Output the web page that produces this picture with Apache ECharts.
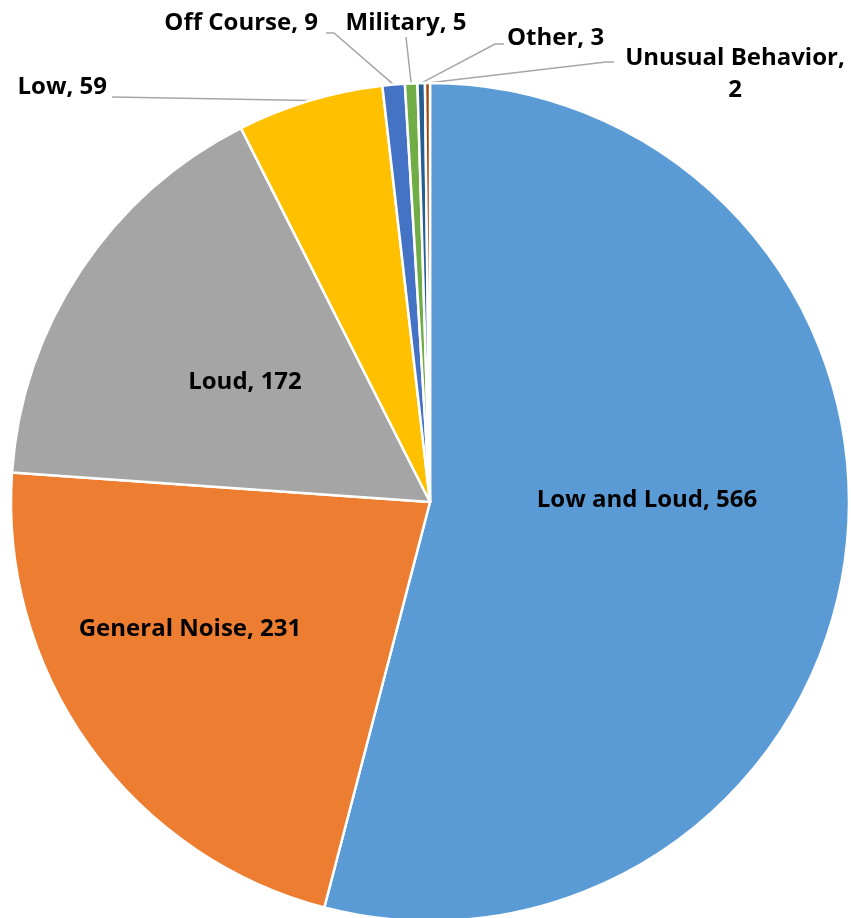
<!DOCTYPE html>
<html>
<head>
<meta charset="utf-8">
<script src="https://cdn.jsdelivr.net/npm/echarts@6/dist/echarts.min.js"></script>
<style>html,body{margin:0;padding:0;background:#fff}#c{width:851px;height:918px}</style>
</head>
<body>
<div id="c"></div>
<script>
const categories = ['Low and Loud', 'General Noise', 'Loud', 'Low', 'Off Course', 'Military', 'Other', 'Unusual Behavior'];
const values = [566, 231, 172, 59, 9, 5, 3, 2];
const colors = ['#5B9BD5', '#ED7D31', '#A5A5A5', '#FFC000', '#4472C4', '#70AD47', '#255E91', '#9E480E'];

// label placement (style only)
const labelPos = [
  {x: 647, y: 500, align: 'center'},
  {x: 190, y: 629, align: 'center'},
  {x: 245, y: 382, align: 'center'},
  {x: 107, y: 87, align: 'right', line: [[112, 97]]},
  {x: 318, y: 23, align: 'right', line: [[334, 33], [326, 33]]},
  {x: 406, y: 23, align: 'center', line: [[406, 37]]},
  {x: 507, y: 38, align: 'left', line: [[495, 44], [504, 44]]},
  {x: 735, y: 74, align: 'center', line: [[606, 62], [614, 62]]}
];

const data = categories.map((n, i) => ({
  name: n,
  value: values[i],
  itemStyle: {color: colors[i]},
  label: i < 3 ? {position: 'inside'} : {position: 'outside'},
  labelLine: {show: i >= 3}
}));

const chart = echarts.init(document.getElementById('c'));
chart.setOption({
  animation: false,
  series: [{
    type: 'pie',
    center: [430, 502],
    radius: 419,
    startAngle: 90,
    clockwise: true,
    avoidLabelOverlap: false,
    data: data,
    itemStyle: {borderColor: '#fff', borderWidth: 2.5},
    label: {
      formatter: p => p.dataIndex === 7 ? 'Unusual Behavior,\n2' : p.name + ', ' + p.value,
      fontFamily: 'Open Sans',
      fontWeight: 'bold',
      fontSize: 24,
      color: '#000',
      lineHeight: 32
    },
    labelLine: {lineStyle: {color: '#A6A6A6', width: 1.5}, length: 10, length2: 10},
    labelLayout: function (params) {
      const p = labelPos[params.dataIndex];
      const res = {x: p.x, y: p.y, align: p.align, verticalAlign: 'middle'};
      if (p.line && params.labelLinePoints) {
        res.labelLinePoints = [params.labelLinePoints[0]].concat(p.line);
      }
      return res;
    }
  }]
});
</script>
</body>
</html>
